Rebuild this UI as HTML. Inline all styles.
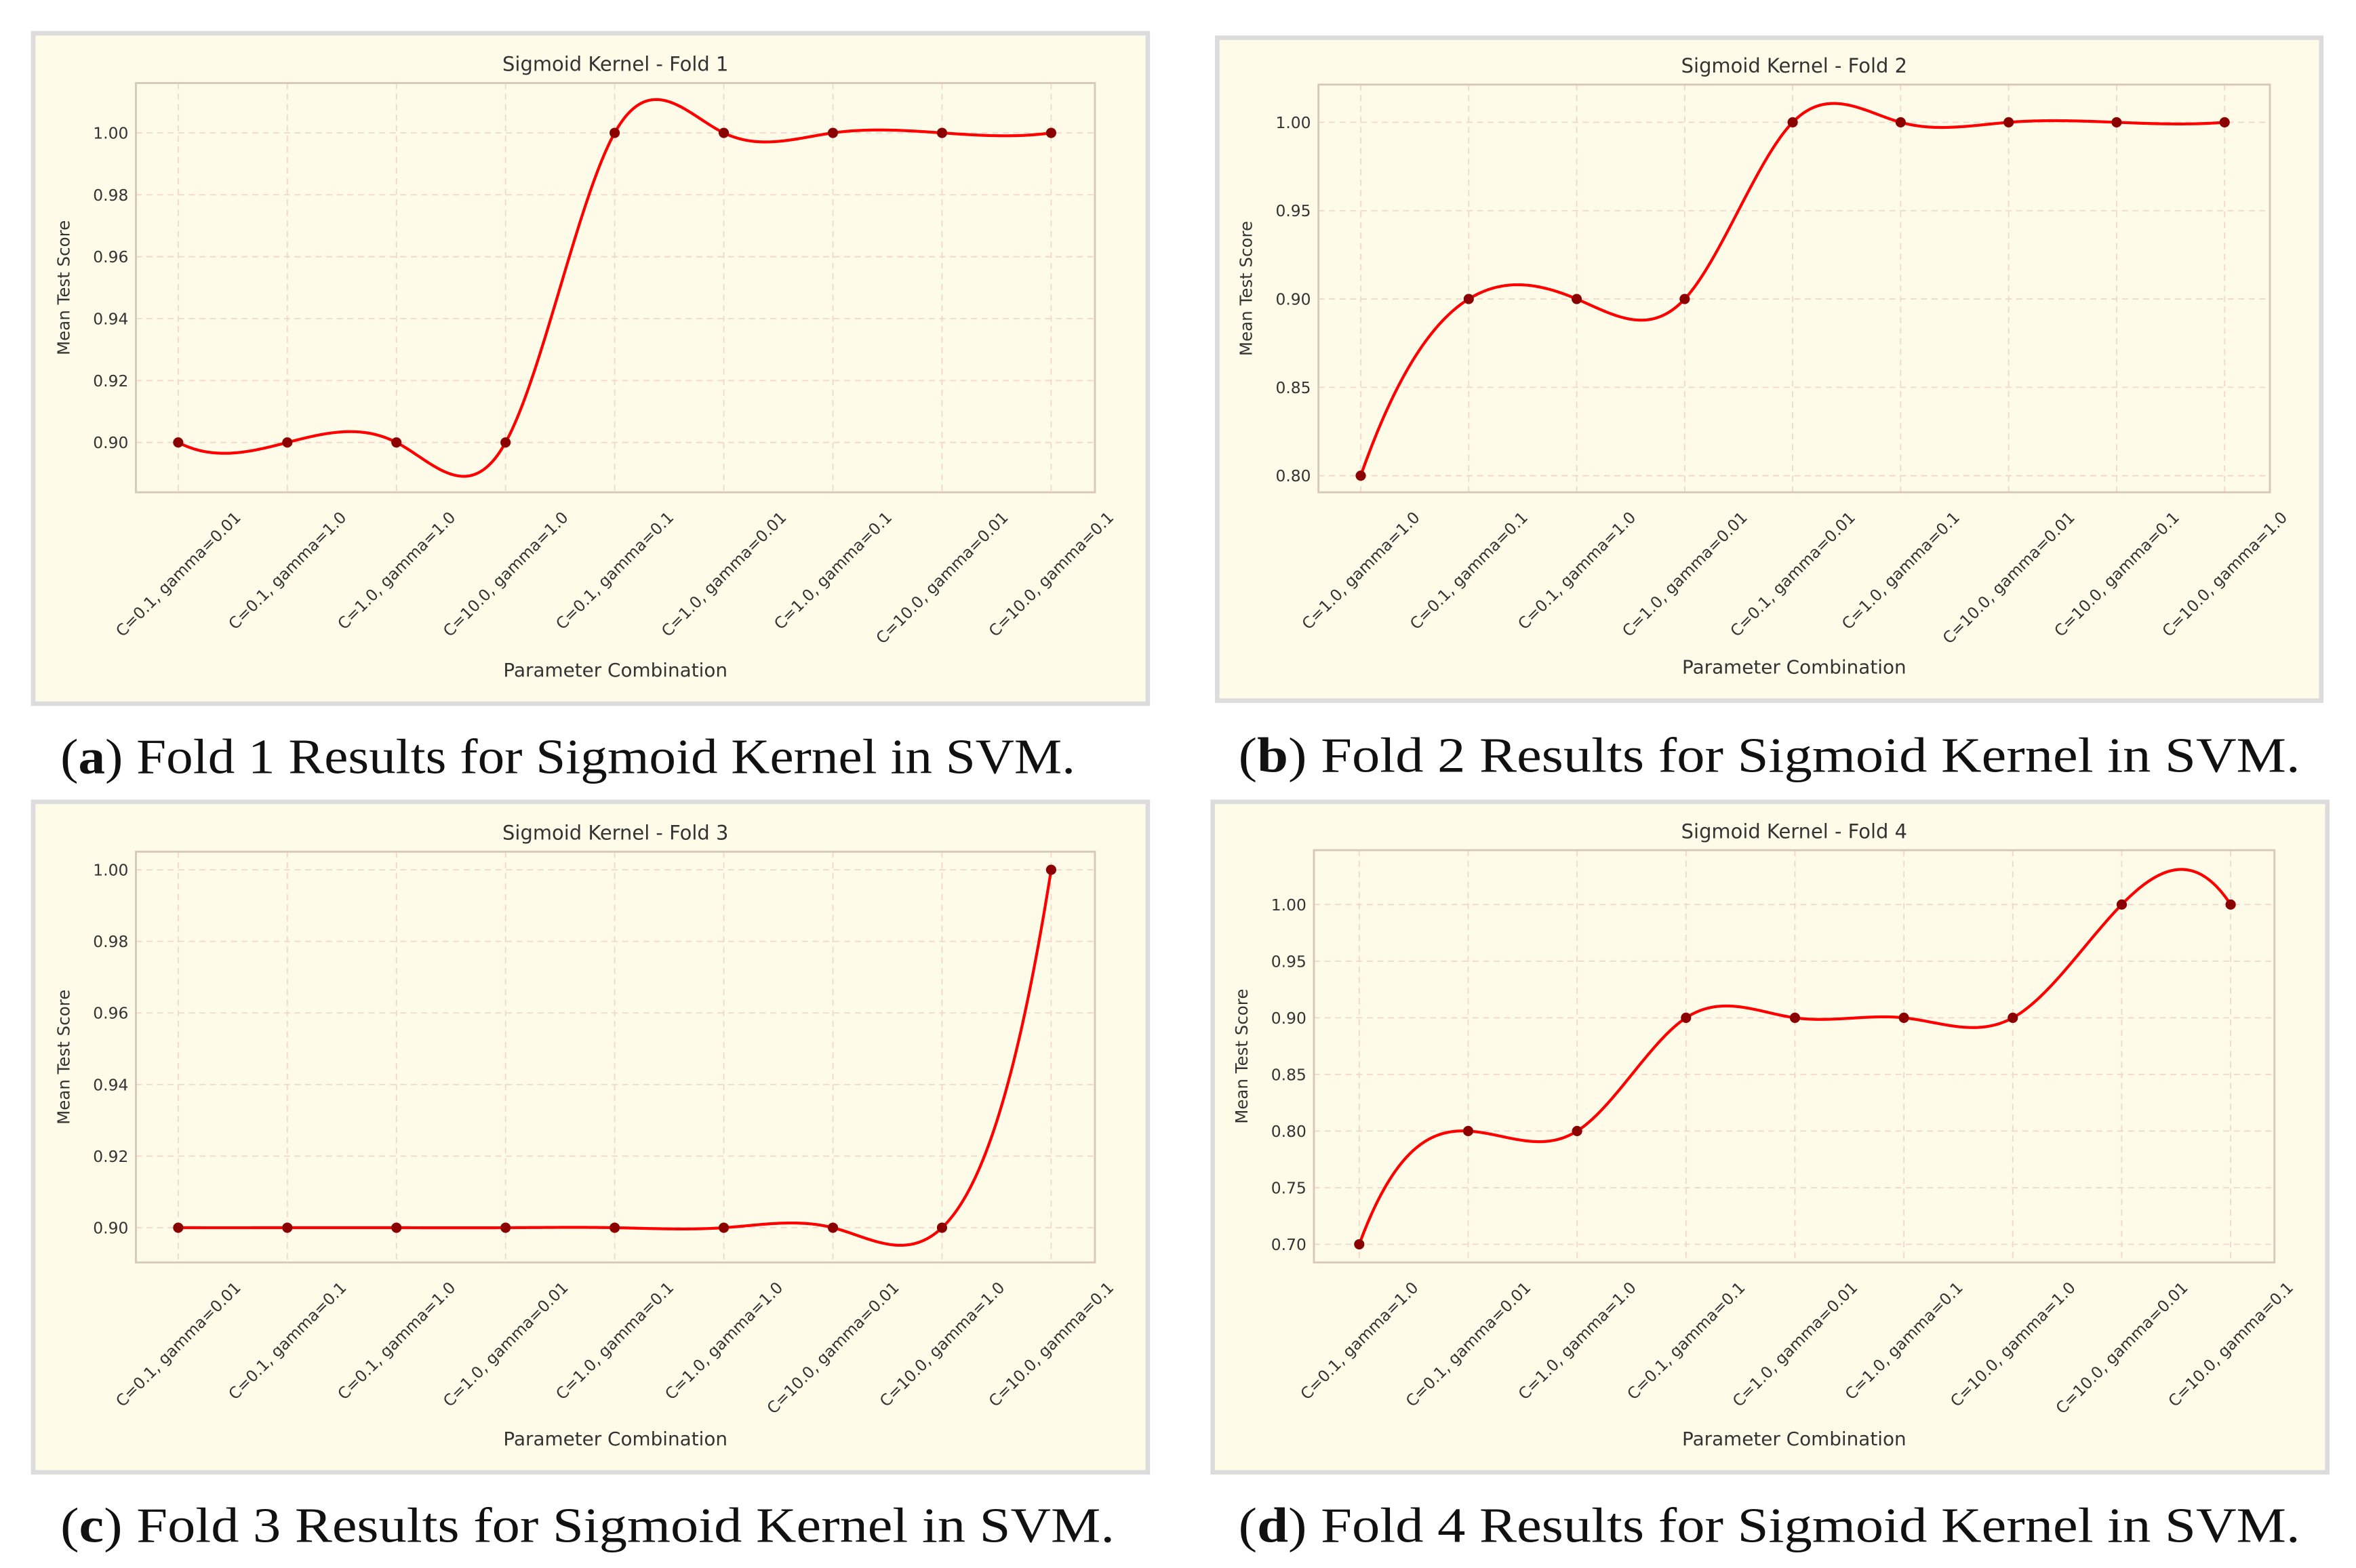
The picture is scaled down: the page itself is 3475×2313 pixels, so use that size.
<!DOCTYPE html>
<html><head><meta charset="utf-8">
<style>
html,body{margin:0;padding:0;background:#fff;}
svg{display:block;}
</style></head>
<body>
<svg id="fig" width="3475" height="2313" viewBox="0 0 1560 1038.35" xmlns="http://www.w3.org/2000/svg"></svg>
<script>
// ---- data ----
const labelsA = ["C=0.1, gamma=0.01","C=0.1, gamma=1.0","C=1.0, gamma=1.0","C=10.0, gamma=1.0","C=0.1, gamma=0.1","C=1.0, gamma=0.01","C=1.0, gamma=0.1","C=10.0, gamma=0.01","C=10.0, gamma=0.1"];
const valuesA = [0.90,0.90,0.90,0.90,1.00,1.00,1.00,1.00,1.00];
const ticksA = [0.90,0.92,0.94,0.96,0.98,1.00];

const labelsB = ["C=1.0, gamma=1.0","C=0.1, gamma=0.1","C=0.1, gamma=1.0","C=1.0, gamma=0.01","C=0.1, gamma=0.01","C=1.0, gamma=0.1","C=10.0, gamma=0.01","C=10.0, gamma=0.1","C=10.0, gamma=1.0"];
const valuesB = [0.80,0.90,0.90,0.90,1.00,1.00,1.00,1.00,1.00];
const ticksB = [0.80,0.85,0.90,0.95,1.00];

const labelsC = ["C=0.1, gamma=0.01","C=0.1, gamma=0.1","C=0.1, gamma=1.0","C=1.0, gamma=0.01","C=1.0, gamma=0.1","C=1.0, gamma=1.0","C=10.0, gamma=0.01","C=10.0, gamma=1.0","C=10.0, gamma=0.1"];
const valuesC = [0.90,0.90,0.90,0.90,0.90,0.90,0.90,0.90,1.00];
const ticksC = [0.90,0.92,0.94,0.96,0.98,1.00];

const labelsD = ["C=0.1, gamma=1.0","C=0.1, gamma=0.01","C=1.0, gamma=1.0","C=0.1, gamma=0.1","C=1.0, gamma=0.01","C=1.0, gamma=0.1","C=10.0, gamma=1.0","C=10.0, gamma=0.01","C=10.0, gamma=0.1"];
const valuesD = [0.70,0.80,0.80,0.90,0.90,0.90,0.90,1.00,1.00];
const ticksD = [0.70,0.75,0.80,0.85,0.90,0.95,1.00];

const NS = "http://www.w3.org/2000/svg";
const svg = document.getElementById('fig');
function mk(tag, attrs, parent){
  const e = document.createElementNS(NS, tag);
  for (const k in attrs) e.setAttribute(k, attrs[k]);
  (parent||svg).appendChild(e);
  return e;
}
// not-a-knot cubic spline on uniform integer knots
function spline(y){
  const n = y.length;
  const A = [], r = [];
  for (let i=0;i<n;i++){ A.push(new Array(n).fill(0)); r.push(0); }
  A[0][0]=1; A[0][1]=-2; A[0][2]=1;
  A[n-1][n-3]=1; A[n-1][n-2]=-2; A[n-1][n-1]=1;
  for (let i=1;i<n-1;i++){ A[i][i-1]=1; A[i][i]=4; A[i][i+1]=1; r[i]=6*(y[i+1]-2*y[i]+y[i-1]); }
  // gaussian elimination with partial pivoting
  for (let c=0;c<n;c++){
    let p=c; for (let k=c+1;k<n;k++) if (Math.abs(A[k][c])>Math.abs(A[p][c])) p=k;
    [A[c],A[p]]=[A[p],A[c]]; [r[c],r[p]]=[r[p],r[c]];
    for (let k=c+1;k<n;k++){ const f=A[k][c]/A[c][c]; if(!f) continue; for (let j=c;j<n;j++) A[k][j]-=f*A[c][j]; r[k]-=f*r[c]; }
  }
  const M = new Array(n).fill(0);
  for (let i=n-1;i>=0;i--){ let s=r[i]; for (let j=i+1;j<n;j++) s-=A[i][j]*M[j]; M[i]=s/A[i][i]; }
  return function(x){
    const i = Math.min(n-2, Math.max(0, Math.floor(x)));
    const t = x - i, u = 1 - t;
    return M[i]*u*u*u/6 + M[i+1]*t*t*t/6 + (y[i]-M[i]/6)*u + (y[i+1]-M[i+1]/6)*t;
  };
}

function panel(p){
  const g = mk('g', {});
  
  
  const fr = mk('rect', {x:p.fx0, y:p.fy0, width:p.fx1-p.fx0, height:p.fy1-p.fy0, fill:'#fefce9', stroke:'#dcdcdc', 'stroke-width':3}, g);
  
  
  const n = p.labels.length;
  const xs = i => p.x0 + (p.x1 - p.x0) * i / (n-1);
  const ys = v => p.y0v + (v - p.v0) * (p.y1v - p.y0v) / (p.v1 - p.v0);
  p.ticks.forEach(t => {
    const gl = mk('line', {x1:p.px0, x2:p.px1, y1:ys(t), y2:ys(t), stroke:'#f2d6cc', 'stroke-width':0.8, 'stroke-dasharray':'4,3'}, g);
    
    
    const tl = mk('text', {x:p.px0-5, y:ys(t)+3.8, 'text-anchor':'end', 'font-size':10.5, fill:'#333', 'font-family':'Liberation Sans Narrow, DejaVu Sans, sans-serif'}, g);
    tl.textContent = t.toFixed(2);
    
    
  });
  const fs = 10.5;
  p.labels.forEach((lab, i) => {
    const gl = mk('line', {x1:xs(i), x2:xs(i), y1:p.py0, y2:p.py1, stroke:'#f2d6cc', 'stroke-width':0.8, 'stroke-dasharray':'4,3'}, g);
    
    
    const tl = mk('text', {x:0, y:0, 'text-anchor':'middle', 'font-size':fs, fill:'#333', 'font-family':'DejaVu Sans, sans-serif'}, g);
    tl.textContent = lab;
    
    
    const L = tl.getComputedTextLength();
    const cx = xs(i), cy = p.py1 + 10 + (L*0.7071 + fs*0.9)/2;
    tl.setAttribute('x', cx);
    tl.setAttribute('y', cy + fs*0.35);
    tl.setAttribute('transform', `rotate(-45 ${cx} ${cy})`);
  });
  const ax = mk('rect', {x:p.px0, y:p.py0, width:p.px1-p.px0, height:p.py1-p.py0, fill:'none', stroke:'#d8c8b8', 'stroke-width':1.3}, g);
  
  
  const f = spline(p.values);
  let d = '';
  for (let k=0; k<=400; k++){
    const x = (n-1)*k/400;
    d += (k? 'L':'M') + xs(x).toFixed(2) + ',' + ys(f(x)).toFixed(2);
  }
  const ln = mk('path', {d:d, fill:'none', stroke:'#ff0000', 'stroke-width':1.9}, g);
  
  
  p.values.forEach((v, i) => {
    const c = mk('circle', {cx:xs(i), cy:ys(v), r:3.4, fill:'#8b0000'}, g);
    
    
  });
  const cx = (p.px0+p.px1)/2;
  const tt = mk('text', {x:cx, y:p.py0-8, 'text-anchor':'middle', 'font-size':13, fill:'#333', 'font-family':'Liberation Sans Narrow, DejaVu Sans, sans-serif'}, g);
  tt.textContent = p.title;
  
  
  const xl = mk('text', {x:cx, y:p.fy1-18, 'text-anchor':'middle', 'font-size':12.5, fill:'#333', 'font-family':'Liberation Sans Narrow, DejaVu Sans, sans-serif'}, g);
  xl.textContent = 'Parameter Combination';
  
  
  const yx = p.px0-44, yy = (p.py0+p.py1)/2;
  const yl = mk('text', {x:yx, y:yy, 'text-anchor':'middle', 'font-size':11, fill:'#333', transform:`rotate(-90 ${yx} ${yy})`, 'font-family':'DejaVu Sans, sans-serif'}, g);
  yl.textContent = 'Mean Test Score';
  
  
  const cap = mk('text', {x:p.capx0, y:p.capy, 'font-size':33, fill:'#111', 'font-family':'Liberation Serif, serif', textLength:p.capx1-p.capx0, lengthAdjust:'spacingAndGlyphs'}, g);
  cap.innerHTML = '(<tspan font-weight="bold">' + p.letter + '</tspan>) ' + p.caption;
  
  
}

panel({name:'panel-fold-1', labels:labelsA, values:valuesA, ticks:ticksA, title:'Sigmoid Kernel - Fold 1',
  fx0:22, fy0:22, fx1:760, fy1:466, px0:90, px1:725, py0:55, py1:326, x0:118, x1:696,
  v0:0.90, y0v:293, v1:1.00, y1v:88, capx0:40, capx1:712, capy:512, letter:'a', caption:'Fold 1 Results for Sigmoid Kernel in SVM.'});
panel({name:'panel-fold-2', labels:labelsB, values:valuesB, ticks:ticksB, title:'Sigmoid Kernel - Fold 2',
  fx0:806, fy0:25, fx1:1537, fy1:464, px0:873, px1:1503, py0:56, py1:326, x0:901, x1:1473,
  v0:0.80, y0v:315, v1:1.00, y1v:81, capx0:820, capx1:1523, capy:511, letter:'b', caption:'Fold 2 Results for Sigmoid Kernel in SVM.'});
panel({name:'panel-fold-3', labels:labelsC, values:valuesC, ticks:ticksC, title:'Sigmoid Kernel - Fold 3',
  fx0:22, fy0:531, fx1:760, fy1:975, px0:90, px1:725, py0:564, py1:836, x0:118, x1:696,
  v0:0.90, y0v:813, v1:1.00, y1v:576, capx0:40, capx1:738, capy:1021, letter:'c', caption:'Fold 3 Results for Sigmoid Kernel in SVM.'});
panel({name:'panel-fold-4', labels:labelsD, values:valuesD, ticks:ticksD, title:'Sigmoid Kernel - Fold 4',
  fx0:803, fy0:531, fx1:1541, fy1:975, px0:870, px1:1506, py0:563, py1:836, x0:900, x1:1477,
  v0:0.70, y0v:824, v1:1.00, y1v:599, capx0:820, capx1:1523, capy:1021, letter:'d', caption:'Fold 4 Results for Sigmoid Kernel in SVM.'});
</script>
</body></html>
